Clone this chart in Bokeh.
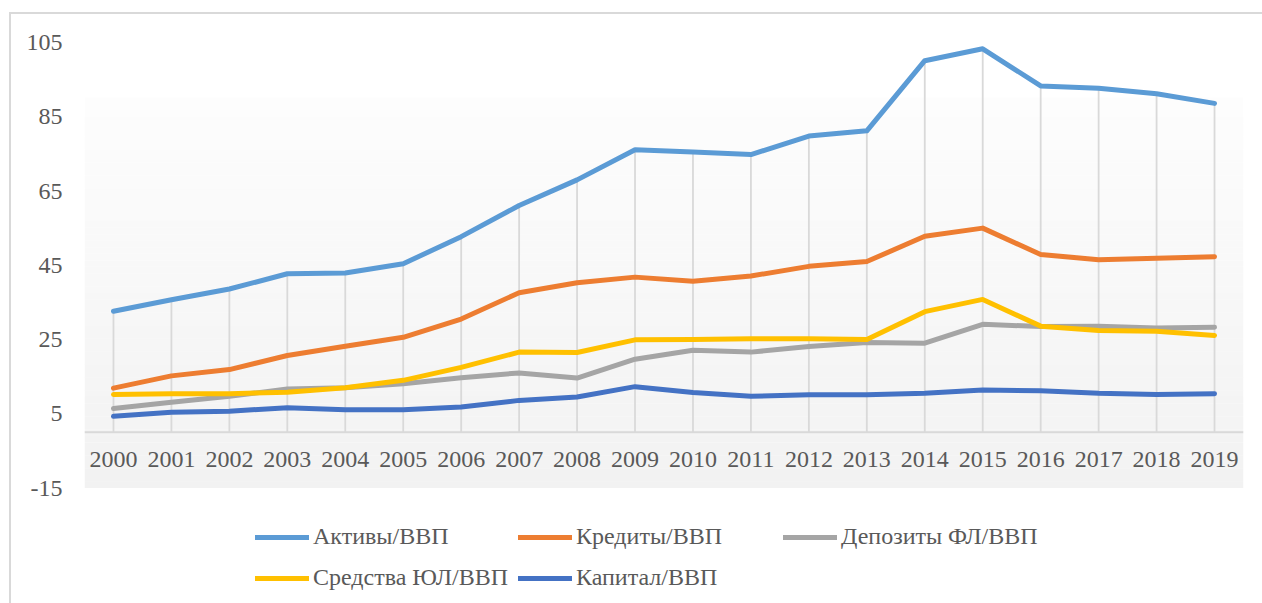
from bokeh.plotting import figure
from bokeh.models import FixedTicker, Span, Legend, LegendItem, InlineStyleSheet
from bokeh.core.properties import value
from bokeh.embed import file_html
from bokeh.resources import INLINE

years = list(range(2000, 2020))
year_labels = [str(y) for y in years]

aktivy = [32.6, 35.7, 38.6, 42.7, 42.9, 45.4, 52.7, 61.1, 68.0, 76.1,
          75.5, 74.8, 79.8, 81.2, 100.1, 103.3, 93.3, 92.7, 91.2, 88.6]
kredity = [11.9, 15.2, 16.9, 20.7, 23.2, 25.6, 30.5, 37.6, 40.3, 41.8,
           40.7, 42.1, 44.7, 46.0, 52.8, 55.0, 47.9, 46.5, 46.9, 47.3]
depozity = [6.4, 8.1, 9.7, 11.7, 12.0, 13.1, 14.7, 16.0, 14.6, 19.7,
            22.1, 21.6, 23.1, 24.2, 24.0, 29.1, 28.5, 28.6, 28.1, 28.3]
sredstva = [10.2, 10.4, 10.4, 10.8, 12.0, 14.0, 17.5, 21.6, 21.5, 24.9,
            25.0, 25.2, 25.2, 25.0, 32.5, 35.8, 28.6, 27.4, 27.2, 26.1]
kapital = [4.3, 5.4, 5.7, 6.6, 6.1, 6.1, 6.8, 8.6, 9.5, 12.3,
           10.7, 9.7, 10.1, 10.1, 10.5, 11.4, 11.2, 10.5, 10.2, 10.4]

series_names = ["Активы/ВВП", "Кредиты/ВВП", "Депозиты ФЛ/ВВП",
                "Средства ЮЛ/ВВП", "Капитал/ВВП"]
series_values = [aktivy, kredity, depozity, sredstva, kapital]
series_colors = ["#5B9BD5", "#ED7D31", "#A5A5A5", "#FFC000", "#4472C4"]

y_ticks = [-15, 5, 25, 45, 65, 85, 105]
y_tick_labels = {t: str(t).replace("\u2212", "-") for t in y_ticks}

FONT = "'Liberation Serif'"
TXT = "#595959"

Y_MIN_PLOT = -15 - (603 - 487.5) / 3.7125

p = figure(width=1262, height=603, x_range=(1999.5, 2019.5),
           y_range=(Y_MIN_PLOT, 105),
           output_backend="svg", toolbar_location=None,
           min_border_left=84, min_border_right=19, min_border_top=42,
           min_border_bottom=0)
p.outline_line_color = None
p.background_fill_color = None
p.border_fill_color = "white"
p.xgrid.visible = False
p.ygrid.visible = False
p.xaxis.visible = False

ya = p.yaxis[0]
ya.ticker = FixedTicker(ticks=y_ticks)
ya.major_label_overrides = y_tick_labels
ya.axis_line_color = None
ya.major_tick_line_color = None
ya.minor_tick_line_color = None
ya.major_tick_out = 0
ya.major_label_standoff = 22
ya.major_label_text_font = FONT
ya.major_label_text_font_size = "24px"
ya.major_label_text_color = TXT

# gradient plot-area background
top_val = 90.2
n = 60
step = (top_val - (-15)) / n
tops = [top_val - i * step for i in range(n)]
bottoms = [t - step - 0.05 for t in tops]
bottoms[-1] = -15
cols = []
for i in range(n):
    c = int(round(253 - (253 - 242) * (i + 0.5) / n))
    cols.append("#%02x%02x%02x" % (c, c, c))
p.quad(left=1999.5, right=2019.5, top=tops, bottom=bottoms, fill_color=cols,
       line_color=None)

# drop lines
max_vals = [max(v) for v in zip(*series_values)]
p.segment(x0=years, y0=0, x1=years, y1=max_vals, line_color="#d9d9d9",
          line_width=1.8)

# category axis line at 0
p.add_layout(Span(location=0, dimension="width", line_color="#d9d9d9",
                  line_width=2))

# category labels
p.text(x=years, y=-7.4, text=year_labels, text_font=value(FONT),
       text_font_size="24px", text_color=TXT, text_align="center",
       text_baseline="middle")

renderers = []
for name, vals, col in zip(series_names, series_values, series_colors):
    r = p.line(years, vals, line_color=col, line_width=5, line_join="round",
               line_cap="round")
    renderers.append(r)

# legend entries laid out as in the reference (relative to frame bottom-left)
positions = [(171, 53), (434, 53), (699, 53), (171, 12), (434, 12)]
for name, r, pos in zip(series_names, renderers, positions):
    lg = Legend(items=[LegendItem(label=name, renderers=[r])], location=pos,
                orientation="horizontal", glyph_width=54, glyph_height=24,
                label_height=24, label_standoff=4, label_text_font=FONT,
                label_text_font_size="24px", label_text_color=TXT,
                padding=0, margin=0, spacing=0, border_line_color=None,
                background_fill_alpha=0)
    p.add_layout(lg, "center")

# chart border (left and top edges visible)
p.stylesheets = [InlineStyleSheet(css="""
:host { position: relative; }
:host::after {
  content: ""; position: absolute; left: 9px; top: 12px; right: 0; bottom: 0;
  border-left: 2px solid #d9d9d9; border-top: 2px solid #d9d9d9;
  pointer-events: none; z-index: 100;
}
""")]

open("out.html", "w").write(file_html(p, INLINE))
